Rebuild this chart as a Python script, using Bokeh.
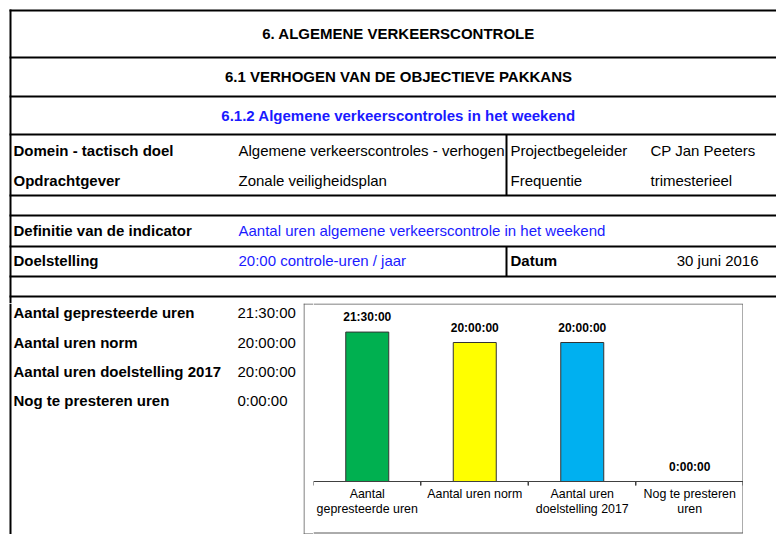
from bokeh.plotting import figure
from bokeh.layouts import column, row
from bokeh.models import Range1d, FactorRange, ColumnDataSource
from bokeh.transform import dodge
from bokeh.core.properties import value
from bokeh.embed import file_html
from bokeh.resources import INLINE

# ---------------- data ----------------
section_title = "6. ALGEMENE VERKEERSCONTROLE"
subsection_title = "6.1 VERHOGEN VAN DE OBJECTIEVE PAKKANS"
indicator_title = "6.1.2 Algemene verkeerscontroles in het weekend"
info_labels = ["Domein - tactisch doel", "Opdrachtgever"]
info_values = ["Algemene verkeerscontroles - verhogen", "Zonale veiligheidsplan"]
meta_labels = ["Projectbegeleider", "Frequentie"]
meta_values = ["CP Jan Peeters", "trimesterieel"]
definitie_label = "Definitie van de indicator"
definitie_value = "Aantal uren algemene verkeerscontrole in het weekend"
doel_label = "Doelstelling"
doel_value = "20:00 controle-uren / jaar"
datum_label = "Datum"
datum_value = "30 juni 2016"

categories = ["Aantal gepresteerde uren", "Aantal uren norm",
              "Aantal uren doelstelling 2017", "Nog te presteren uren"]
axis_line1 = ["Aantal", "Aantal uren norm", "Aantal uren", "Nog te presteren"]
axis_line2 = ["gepresteerde uren", "", "doelstelling 2017", "uren"]
hours = [21.5, 20.0, 20.0, 0.0]
bar_colors = ["#00b050", "#ffff00", "#00b0f0", "#00b0f0"]


def fmt(h):
    s = int(round(h * 3600))
    return f"{s // 3600}:{(s % 3600) // 60:02d}:{s % 60:02d}"


hour_labels = [fmt(h) for h in hours]

# ---------------- styles ----------------
FONT = "Liberation Sans"
BLUE = "#1a1aff"
FS = "15px"
PXH = 6.95          # pixels per hour in the chart
AX_BELOW = 53       # pixels from chart bottom to the category axis
AX_ABOVE = 178      # pixels from the category axis to chart top
BOX = "#595959"


def base(w, h, x0, x1, y_top, y_bottom):
    p = figure(width=w, height=h, x_range=Range1d(x0, x1), y_range=Range1d(y_bottom, y_top),
               output_backend="svg", toolbar_location=None, min_border=0,
               x_axis_location=None, y_axis_location=None)
    p.outline_line_color = None
    p.background_fill_color = "white"
    p.border_fill_color = "white"
    for g in p.grid:
        g.visible = False
    return p


def txt(p, xs, ys, texts, color="black", bold=False, align="left"):
    p.text(x=xs, y=ys, text=texts, text_font=value(FONT), text_font_size=FS,
           text_font_style="bold" if bold else "normal", text_color=color,
           text_align=align, text_baseline="middle")


# ---------------- top table ----------------
top = base(776, 303, 0, 776, 0, 303)
hy = [10, 57, 96, 134, 195, 215, 246, 276, 296]
top.segment(x0=[9] * len(hy), x1=[776] * len(hy), y0=hy, y1=hy, line_color="black", line_width=2)
top.segment(x0=[10, 506, 506], x1=[10, 506, 506], y0=[9, 134, 246], y1=[303, 195, 276],
            line_color="black", line_width=2)

txt(top, [398], [33], [section_title], bold=True, align="center")
txt(top, [398], [76], [subsection_title], bold=True, align="center")
txt(top, [398], [115], [indicator_title], color=BLUE, bold=True, align="center")
txt(top, [13, 13], [150, 180], info_labels, bold=True)
txt(top, [238, 238], [150, 180], info_values)
txt(top, [510, 510], [150, 180], meta_labels)
txt(top, [650, 650], [150, 180], meta_values)
txt(top, [13, 13], [230, 260], [definitie_label, doel_label], bold=True)
txt(top, [238, 238], [230, 260], [definitie_value, doel_value], color=BLUE)
txt(top, [510], [260], [datum_label], bold=True)
txt(top, [758], [260], [datum_value], align="right")

# ---------------- bottom-left list ----------------
left = base(303, 231, 0, 303, 303, 534)
left.segment(x0=[10], x1=[10], y0=[303], y1=[534], line_color="black", line_width=2)
row_y = [312, 341.5, 371, 400]
txt(left, [13] * 4, row_y, categories, bold=True)
txt(left, [237] * 4, row_y, hour_labels)

# ---------------- chart box left strip ----------------
strip = base(10, 231, 303, 313, 303, 534)
strip.segment(x0=[303.5, 303, 303], x1=[303.5, 313, 313], y0=[303, 303.5, 533.5],
              y1=[534, 303.5, 533.5], line_color=BOX, line_width=1)

# ---------------- chart ----------------
src = ColumnDataSource(dict(cat=categories, hours=hours, color=bar_colors, label=hour_labels,
                            l1=axis_line1, l2=axis_line2))
c = figure(width=430, height=231, x_range=FactorRange(factors=categories, range_padding=0),
           y_range=Range1d(-AX_BELOW / PXH, AX_ABOVE / PXH), output_backend="svg",
           toolbar_location=None, min_border=0, x_axis_location=None, y_axis_location=None)
c.outline_line_color = None
c.background_fill_color = "white"
c.border_fill_color = "white"
for g in c.grid:
    g.visible = False

# box edges (top, bottom, right) continuing the strip
px_cat = 430 / len(categories)
y_top_edge = (AX_ABOVE - 0.5) / PXH
y_bot_edge = -(AX_BELOW - 1.5) / PXH
x_right_edge = len(categories) - 0.5 / px_cat
c.segment(x0=[0, 0, x_right_edge], x1=[len(categories), len(categories), x_right_edge],
          y0=[y_top_edge, y_bot_edge, y_top_edge], y1=[y_top_edge, y_bot_edge, y_bot_edge],
          line_color=BOX, line_width=1)

c.vbar(x="cat", top="hours", bottom=0, width=0.4, source=src, fill_color="color",
       line_color="#333333", line_width=1)
c.text(x="cat", y="hours", text="label", source=src, text_font=value(FONT),
       text_font_size="12px", text_font_style="bold", text_align="center",
       text_baseline="bottom", y_offset=-8, text_color="black")

# category axis line and boundary ticks
c.segment(x0=dodge("cat", -0.5, range=c.x_range), x1=dodge("cat", 0.5, range=c.x_range),
          y0=0, y1=0, source=src, line_color="#404040", line_width=1)
c.segment(x0=dodge("cat", -0.5, range=c.x_range), x1=dodge("cat", -0.5, range=c.x_range),
          y0=0, y1=-4 / PXH, source=src, line_color="#404040", line_width=1)
c.segment(x0=dodge("cat", 0.5 - 0.5 / px_cat, range=c.x_range),
          x1=dodge("cat", 0.5 - 0.5 / px_cat, range=c.x_range),
          y0=0, y1=-4 / PXH, source=src, line_color="#404040", line_width=1)

# category labels (two lines)
for field, off in (("l1", 12), ("l2", 27)):
    c.text(x="cat", y=0, text=field, source=src, text_font=value(FONT),
           text_font_size="12.4px", text_align="center", text_baseline="middle",
           y_offset=off, text_color="black")

layout = column(top, row(left, strip, c))

open("out.html", "w").write(file_html(layout, INLINE))
